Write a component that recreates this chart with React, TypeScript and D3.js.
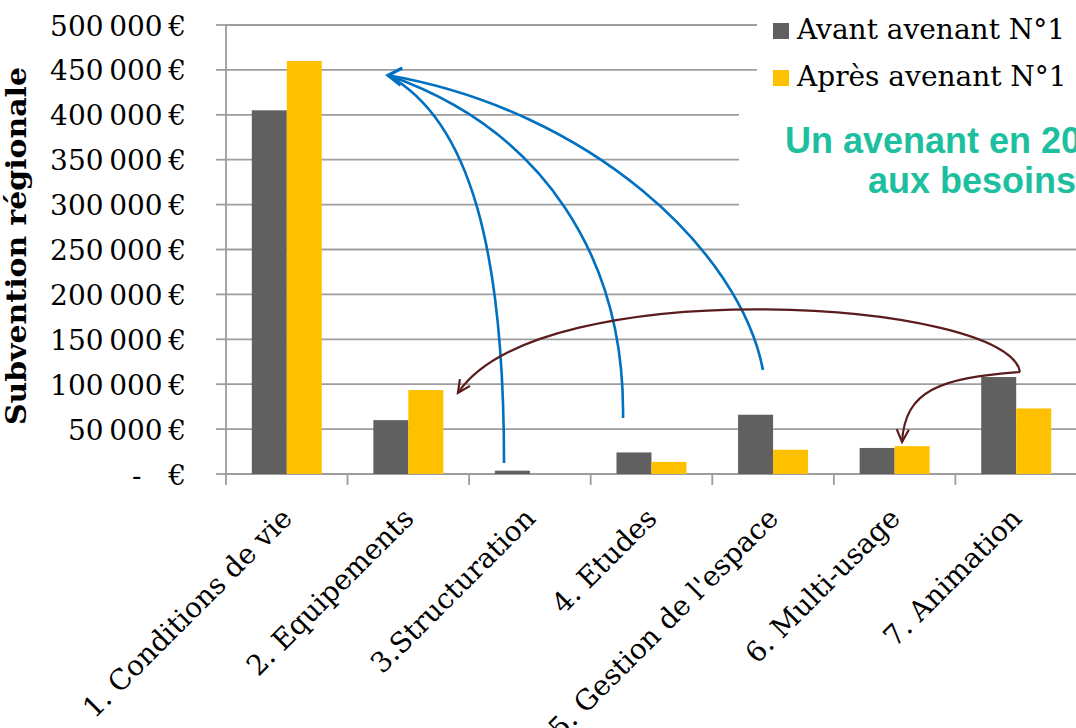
import React from 'react'
import * as d3 from 'd3'

// données
const categories = [
  '1. Conditions de vie',
  '2. Equipements',
  '3.Structuration',
  '4. Etudes',
  "5. Gestion de l'espace",
  '6. Multi-usage',
  '7. Animation'
]
const seriesNames = ['Avant avenant N°1', 'Après avenant N°1']
const seriesColors = ['#606060', '#FFC000']
const avant = [405000, 60000, 3700, 24000, 66000, 29000, 108000]
const apres = [460000, 93500, 0, 13500, 27000, 31000, 73000]
const yTickValues = [0, 50000, 100000, 150000, 200000, 250000, 300000, 350000, 400000, 450000, 500000]
const noteLines = ['Un avenant en 20', 'aux besoins']

// flèches d'annotation : [position en catégories, montant €]
const blueTip: [number, number] = [1.333, 444000]
const blueCurves: [number, number][][] = [
  [[2.287, 12300], [2.287, 249500], [2.007, 394000]],
  [[3.266, 62400], [3.282, 238300], [2.624, 383000]],
  [[4.417, 115800], [4.228, 249500], [2.994, 405000]]
]
const brownStart: [number, number] = [6.531, 113600]
const brownCurves: [number, number][][] = [
  [[6.449, 193800], [2.583, 227200], [1.908, 90200]],
  [[5.873, 106900], [5.585, 93500], [5.561, 35600]]
]

const W = 1076
const H = 728
const margin = { top: 25, left: 226, bottom: 254 }
const step = 121.57
const serif = '"DejaVu Serif", serif'

function arrowHead(tip: [number, number], from: [number, number], len: number, ang: number) {
  const dx = tip[0] - from[0]
  const dy = tip[1] - from[1]
  const a = Math.atan2(dy, dx) + Math.PI
  const p1 = [tip[0] + len * Math.cos(a - ang), tip[1] + len * Math.sin(a - ang)]
  const p2 = [tip[0] + len * Math.cos(a + ang), tip[1] + len * Math.sin(a + ang)]
  return `M${p1[0]},${p1[1]}L${tip[0]},${tip[1]}L${p2[0]},${p2[1]}`
}

export default function App() {
  const x0 = d3.scaleBand<string>()
    .domain(categories)
    .range([margin.left, margin.left + step * categories.length])
    .padding(0)
  const x1 = d3.scaleBand<string>()
    .domain(seriesNames)
    .range([0, x0.bandwidth()])
    .paddingInner(0)
    .paddingOuter(0.737)
  const y = d3.scaleLinear().domain([0, 500000]).range([H - margin.bottom, margin.top])
  const xu = d3.scaleLinear().domain([0, categories.length]).range(x0.range())

  const pt = (d: [number, number]): [number, number] => [xu(d[0]), y(d[1])]
  const fmt = (v: number) =>
    v === 0 ? '-\u00a0\u00a0\u00a0€' : d3.format(',')(v).replace(/,/g, '\u2009') + '\u2009€'

  const values = [avant, apres]
  const baseY = y(0)
  const right = x0.range()[1]

  const cubic = (p0: [number, number], c: [number, number][]) => {
    const p = d3.path()
    const a = pt(p0), b = pt(c[0]), e = pt(c[1]), f = pt(c[2])
    p.moveTo(a[0], a[1])
    p.bezierCurveTo(b[0], b[1], e[0], e[1], f[0], f[1])
    return p.toString()
  }

  const tipPx = pt(blueTip)

  return (
    <svg width={W} height={H} style={{ position: 'absolute', left: 0, top: 0, background: '#fff' }}>
      {/* grille */}
      {yTickValues.map(v => (
        <line key={v} x1={margin.left} x2={right} y1={y(v)} y2={y(v)} stroke="#9d9d9d" strokeWidth={1.8} />
      ))}
      {/* axe vertical */}
      <line x1={margin.left} x2={margin.left} y1={y(500000)} y2={baseY} stroke="#9d9d9d" strokeWidth={1.8} />
      {yTickValues.map(v => (
        <line key={'t' + v} x1={margin.left - 10} x2={margin.left} y1={y(v)} y2={y(v)} stroke="#9d9d9d" strokeWidth={1.8} />
      ))}
      {/* graduations en bas */}
      {categories.map(c => (
        <line key={'bt' + c} x1={x0(c)!} x2={x0(c)!} y1={baseY} y2={baseY + 11} stroke="#9d9d9d" strokeWidth={1.8} />
      ))}

      {/* zones blanches : légende et texte */}
      <rect x={757} y={0} width={W - 757} height={96} fill="#fff" />
      <rect x={739} y={96} width={W - 739} height={134} fill="#fff" />

      {/* barres */}
      {categories.map((c, i) => (
        <g key={c}>
          {seriesNames.map((s, k) => {
            const v = values[k][i]
            return (
              <rect
                key={s}
                x={x0(c)! + x1(s)!}
                y={y(v)}
                width={x1.bandwidth()}
                height={baseY - y(v)}
                fill={seriesColors[k]}
              />
            )
          })}
        </g>
      ))}

      {/* libellés Y */}
      {yTickValues.map(v => (
        <text key={'l' + v} x={186} y={y(v) + 10.5} textAnchor="end" fontFamily={serif} fontSize={28} fill="#000">
          {fmt(v)}
        </text>
      ))}
      <text
        transform={`translate(26,246) rotate(-90)`}
        textAnchor="middle"
        fontFamily={serif}
        fontWeight="bold"
        fontSize={27}
        textLength={358}
        lengthAdjust="spacingAndGlyphs"
      >
        Subvention régionale
      </text>

      {/* libellés X */}
      {categories.map(c => {
        const cx = x0(c)! + x0.bandwidth() / 2 + 7
        return (
          <text
            key={'x' + c}
            transform={`translate(${cx},${baseY + 46}) rotate(-45)`}
            textAnchor="end"
            fontFamily={serif}
            fontSize={28}
          >
            {c}
          </text>
        )
      })}

      {/* légende */}
      {seriesNames.map((s, k) => (
        <g key={'lg' + s} transform={`translate(773,${23 + k * 47})`}>
          <rect x={0} y={0} width={16} height={16} fill={seriesColors[k]} />
          <text x={24} y={16} fontFamily={serif} fontSize={28}>{s}</text>
        </g>
      ))}

      {/* note */}
      <text x={785} y={153} fontFamily='"Liberation Sans", Arial, sans-serif' fontWeight="bold" fontSize={36} fill="#1DBF9E">
        {noteLines[0]}
      </text>
      <text x={868} y={193} fontFamily='"Liberation Sans", Arial, sans-serif' fontWeight="bold" fontSize={36} fill="#1DBF9E">
        {noteLines[1]}
      </text>

      {/* flèches bleues */}
      {blueCurves.map((c, i) => (
        <path key={'b' + i} d={cubic(c[0], [c[1], c[2], blueTip])} fill="none" stroke="#0070C0" strokeWidth={2.6} />
      ))}
      <path
        d={arrowHead(tipPx, [tipPx[0] + 40, tipPx[1] + 4], 16, Math.PI / 5.5)}
        fill="none"
        stroke="#0070C0"
        strokeWidth={3.2}
        strokeLinejoin="miter"
      />

      {/* flèches brunes */}
      {brownCurves.map((c, i) => (
        <g key={'r' + i}>
          <path d={cubic(brownStart, c)} fill="none" stroke="#5A1C1C" strokeWidth={2.2} />
          <path d={arrowHead(pt(c[2]), pt(c[1]), 14, Math.PI / 7)} fill="none" stroke="#5A1C1C" strokeWidth={2.2} />
        </g>
      ))}
    </svg>
  )
}
